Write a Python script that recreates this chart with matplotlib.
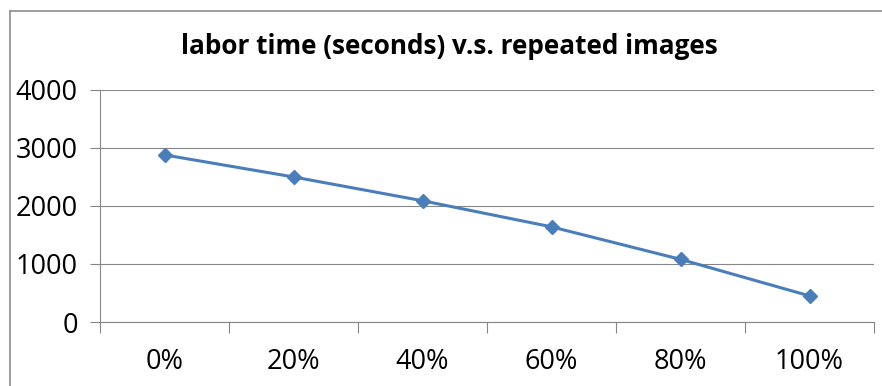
import numpy as np
import matplotlib.pyplot as plt
from matplotlib.lines import Line2D

# repeated image share vs. labor time
categories = ['0%', '20%', '40%', '60%', '80%', '100%']
labor_time = [2880, 2500, 2090, 1640, 1080, 450]
y_ticks = [0, 1000, 2000, 3000, 4000]

plt.rcParams['font.family'] = ['Open Sans', 'DejaVu Sans']
grey = '#868686'

fig = plt.figure(figsize=(8.82, 3.86), dpi=100)
ax = fig.add_axes([0.1134, 0.1658, 0.991 - 0.1134, 0.767 - 0.1658])

x = np.arange(len(categories))
ax.plot(x, labor_time, color='#4A7EBB', lw=2.2, marker='D', ms=7.5, mec='#4A7EBB', mfc='#4A7EBB')

ax.set_xlim(-0.5, len(categories) - 0.5)
ax.set_ylim(0, 4000)
ax.set_yticks(y_ticks)
ax.set_yticklabels([str(v) for v in y_ticks], fontsize=19.5)
ax.yaxis.grid(True, color=grey, lw=0.8)
ax.set_axisbelow(True)

# category boundaries get the tick marks, labels sit at centres
ax.set_xticks(np.arange(len(categories) + 1) - 0.5)
ax.set_xticklabels([])
ax.set_xticks(x, minor=True)
ax.set_xticklabels(categories, minor=True, fontsize=19.5)
ax.tick_params(axis='x', which='major', length=8, color=grey, width=0.8)
ax.tick_params(axis='x', which='minor', length=0, pad=19)
ax.tick_params(axis='y', length=7, color=grey, width=0.8, pad=9)

for s in ['top', 'right']:
    ax.spines[s].set_visible(False)
for s in ['left', 'bottom']:
    ax.spines[s].set_color(grey)
    ax.spines[s].set_linewidth(0.8)

fig.text(0.51, 0.88, 'labor time (seconds) v.s. repeated images',
         ha='center', va='center', fontsize=18.8, fontweight='bold')

# chart frame
fig.add_artist(Line2D([10 / 882, 10 / 882], [0, 1 - 11 / 386], color='#8c8c8c', lw=1.2))
fig.add_artist(Line2D([10 / 882, 1], [1 - 11 / 386, 1 - 11 / 386], color='#8c8c8c', lw=1.2))

fig.savefig('out.png', dpi=100)
